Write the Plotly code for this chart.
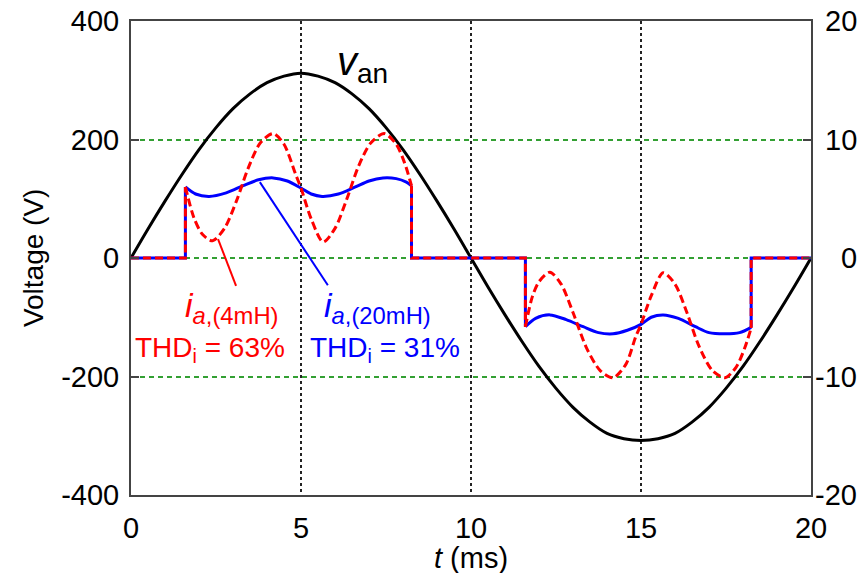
import plotly.graph_objects as go

# ---- data ----
t_v = [0, 0.5, 1, 1.5, 2, 2.5, 3, 3.5, 4, 4.5, 5, 5.5, 6, 6.5, 7, 7.5, 8, 8.5, 9, 9.5, 10,
       10.5, 11, 11.5, 12, 12.5, 13, 13.5, 14, 14.5, 15, 15.5, 16, 16.5, 17, 17.5, 18, 18.5, 19, 19.5, 20]
v_an = [0, 49, 96, 141, 183, 220, 252, 277, 296, 307, 312, 307, 296, 277, 252, 220, 183, 141, 96, 49, 0,
        -49, -96, -141, -183, -220, -252, -277, -296, -305, -308, -305, -296, -277, -252, -220, -183, -141, -96, -49, 0]

red_pos_t = [1.60, 1.85, 2.1, 2.4, 2.75, 3.1, 3.45, 3.8, 4.18, 4.5, 4.85, 5.0, 5.3, 5.65, 6.0, 6.35, 6.7, 7.05, 7.45, 7.8, 8.05, 8.25]
red_pos_i = [6.0, 3.4, 2.0, 1.45, 2.5, 4.8, 7.6, 9.7, 10.5, 9.6, 7.0, 5.9, 3.3, 1.35, 2.5, 5.0, 7.8, 9.7, 10.5, 9.6, 8.0, 6.1]
red_neg_t = [11.6, 11.8, 12.0, 12.32, 12.65, 13.0, 13.4, 13.8, 14.18, 14.55, 14.85, 15.0, 15.3, 15.65, 16.0, 16.35, 16.7, 17.1, 17.47, 17.8, 18.05, 18.24]
red_neg_i = [-5.8, -3.3, -2.0, -1.2, -2.2, -4.6, -7.6, -9.5, -10.1, -9.0, -6.6, -5.6, -3.2, -1.25, -2.2, -4.6, -7.4, -9.5, -10.1, -9.2, -7.6, -5.9]

blue_pos_t = [1.60, 1.9, 2.3, 2.8, 3.3, 3.75, 4.18, 4.6, 5.0, 5.3, 5.62, 6.1, 6.6, 7.0, 7.41, 7.8, 8.1, 8.25]
blue_pos_i = [6.0, 5.4, 5.2, 5.5, 6.1, 6.6, 6.76, 6.5, 5.9, 5.4, 5.2, 5.4, 6.0, 6.5, 6.76, 6.7, 6.4, 6.1]
blue_neg_t = [11.6, 11.9, 12.32, 12.8, 13.3, 13.75, 14.18, 14.6, 15.0, 15.3, 15.65, 16.1, 16.6, 17.0, 17.47, 17.9, 18.24]
blue_neg_i = [-5.8, -5.1, -4.8, -5.2, -5.8, -6.3, -6.4, -6.1, -5.6, -5.0, -4.8, -5.1, -5.8, -6.3, -6.4, -6.3, -5.85]

v_ticks = [-400, -200, 0, 200, 400]
i_ticks = [-20, -10, 0, 10, 20]
t_ticks = [0, 5, 10, 15, 20]

FONT = "Arial, Liberation Sans, sans-serif"
RED = "#ff0000"
BLUE = "#0000ff"
TICKSIZE = 29


def step_path(pt, pi, nt, ni):
    x = [0, pt[0], pt[0], None, pt[-1], pt[-1], nt[0], nt[0], None, nt[-1], nt[-1], 20]
    y = [0, 0, pi[0], None, pi[-1], 0, 0, ni[0], None, ni[-1], 0, 0]
    return x, y


fig = go.Figure()

# blue current (20 mH)
bx, by = step_path(blue_pos_t, blue_pos_i, blue_neg_t, blue_neg_i)
fig.add_trace(go.Scatter(x=bx, y=by, yaxis="y2", mode="lines",
                         line=dict(color=BLUE, width=3), hoverinfo="skip"))
for tt, ii in [(blue_pos_t, blue_pos_i), (blue_neg_t, blue_neg_i)]:
    fig.add_trace(go.Scatter(x=tt, y=ii, yaxis="y2", mode="lines",
                             line=dict(color=BLUE, width=3, shape="spline", smoothing=0.8)))

# red current (4 mH)
rx, ry = step_path(red_pos_t, red_pos_i, red_neg_t, red_neg_i)
fig.add_trace(go.Scatter(x=rx, y=ry, yaxis="y2", mode="lines",
                         line=dict(color=RED, width=3, dash="8px,4px"), hoverinfo="skip"))
for tt, ii in [(red_pos_t, red_pos_i), (red_neg_t, red_neg_i)]:
    fig.add_trace(go.Scatter(x=tt, y=ii, yaxis="y2", mode="lines",
                             line=dict(color=RED, width=3, dash="8px,4px", shape="spline", smoothing=0.8)))

# voltage
fig.add_trace(go.Scatter(x=t_v, y=v_an, mode="lines",
                         line=dict(color="black", width=3, shape="spline", smoothing=1.0)))

# leader lines
fig.add_shape(type="line", xref="x", yref="y2", x0=2.56, y0=1.6, x1=3.09, y1=-2.35,
              line=dict(color=RED, width=2))
fig.add_shape(type="line", xref="x", yref="y2", x0=3.79, y0=6.4, x1=5.79, y1=-2.3,
              line=dict(color=BLUE, width=2))

ann = []
ann.append(dict(x=6.8, y=327, xref="x", yref="y", showarrow=False,
                text="<i>v</i><sub>an</sub>", font=dict(size=40, color="black", family=FONT)))
ann.append(dict(x=2.97, y=-84, xref="x", yref="y", showarrow=False,
                text="<i>i</i><sub><i>a</i>,(4mH)</sub>", font=dict(size=34, color=RED, family=FONT)))
ann.append(dict(x=2.33, y=-155, xref="x", yref="y", showarrow=False,
                text="THD<sub>i</sub> = 63%", font=dict(size=28, color=RED, family=FONT)))
ann.append(dict(x=7.25, y=-84, xref="x", yref="y", showarrow=False,
                text="<i>i</i><sub><i>a</i>,(20mH)</sub>", font=dict(size=34, color=BLUE, family=FONT)))
ann.append(dict(x=7.47, y=-155, xref="x", yref="y", showarrow=False,
                text="THD<sub>i</sub> = 31%", font=dict(size=28, color=BLUE, family=FONT)))
# axis titles
ann.append(dict(x=-0.144, y=0.5, xref="paper", yref="paper", showarrow=False, textangle=-90,
                xanchor="center", yanchor="middle",
                text="Voltage (V)", font=dict(size=28, color="black", family=FONT)))
ann.append(dict(x=0.5, y=-0.133, xref="paper", yref="paper", showarrow=False,
                xanchor="center", yanchor="middle",
                text="<i>t</i> (ms)", font=dict(size=29, color="black", family=FONT)))
# right-axis tick labels (right aligned so they stay inside the page)
for v in i_ticks:
    ann.append(dict(x=1.0, xshift=48, y=v, xref="paper", yref="y2", showarrow=False,
                    xanchor="right", yanchor="middle", text=str(v),
                    font=dict(size=TICKSIZE, color="black", family=FONT)))

fig.update_layout(
    width=858, height=565,
    margin=dict(l=123, r=55, t=13, b=78),
    paper_bgcolor="white", plot_bgcolor="white",
    showlegend=False,
    font=dict(family=FONT, size=28, color="black"),
    annotations=ann,
    xaxis=dict(range=[0, 20], tickvals=t_ticks, ticktext=[str(v) for v in t_ticks],
               showgrid=True, gridcolor="#222222", gridwidth=2, griddash="3px,3px",
               zeroline=False, ticks="", ticklabelstandoff=6, automargin=False,
               ticklabeloverflow="allow",
               tickfont=dict(size=TICKSIZE, family=FONT, color="black"),
               showline=True, linecolor="#444444", linewidth=2, mirror=True),
    yaxis=dict(range=[-400, 400], tickvals=v_ticks, ticktext=[str(v) for v in v_ticks],
               showgrid=True, gridcolor="#33a033", gridwidth=1.5, griddash="5px,4px",
               zeroline=False, ticks="inside", ticklen=8, tickwidth=2, tickcolor="#444444",
               ticklabelstandoff=4, automargin=False, ticklabeloverflow="allow",
               tickfont=dict(size=TICKSIZE, family=FONT, color="black"),
               showline=True, linecolor="#444444", linewidth=2, mirror=True),
    yaxis2=dict(range=[-20, 20], tickvals=i_ticks, showticklabels=False,
                overlaying="y", side="right", showgrid=False, zeroline=False,
                ticks="inside", ticklen=8, tickwidth=2, tickcolor="#444444",
                automargin=False,
                showline=True, linecolor="#444444", linewidth=2),
)

fig.write_html("out.html")
